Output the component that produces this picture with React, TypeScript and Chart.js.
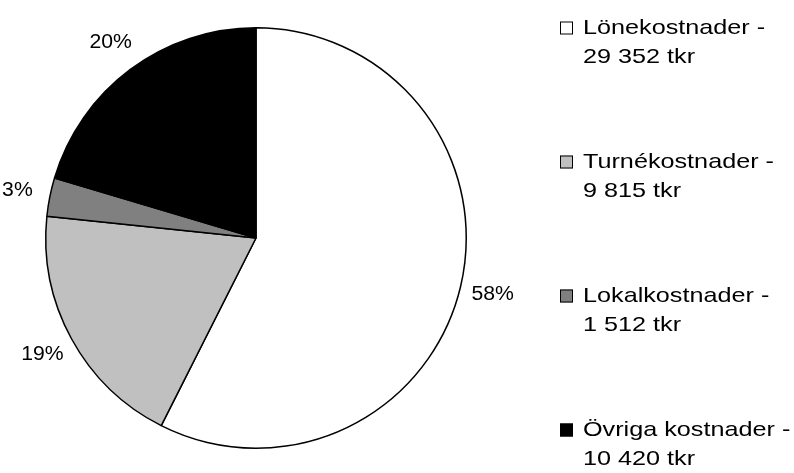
import React, { useEffect, useRef } from "react";
import { Chart, registerables } from "chart.js";

Chart.register(...registerables);

const categories = ["Lönekostnader", "Turnékostnader", "Lokalkostnader", "Övriga kostnader"];
const values = [29352, 9815, 1512, 10420];
const percentLabels = ["58%", "19%", "3%", "20%"];
const sliceColors = ["#FFFFFF", "#C0C0C0", "#808080", "#000000"];
const unit = "tkr";

const FONT = "'Liberation Sans', Arial, sans-serif";

function fmt(v: number): string {
  return String(v).replace(/\B(?=(\d{3})+(?!\d))/g, " ");
}

const labelPlugin = {
  id: "outsideLabels",
  afterDatasetsDraw(chart: any) {
    const ctx = chart.ctx;
    const meta = chart.getDatasetMeta(0);
    ctx.save();
    ctx.font = `20px ${FONT}`;
    ctx.fillStyle = "#000";
    ctx.textAlign = "center";
    ctx.textBaseline = "middle";
    meta.data.forEach((arc: any, i: number) => {
      const p = arc.getProps(["x", "y", "startAngle", "endAngle", "outerRadius"], true);
      const mid = (p.startAngle + p.endAngle) / 2;
      const rr = p.outerRadius + 33;
      const lx = p.x + Math.cos(mid) * rr;
      const ly = p.y + Math.sin(mid) * rr;
      ctx.save();
      ctx.translate(lx, ly);
      ctx.scale(1.06, 1);
      ctx.fillText(percentLabels[i], 0, 0);
      ctx.restore();
    });
    ctx.restore();
  },
};

const legendPlugin = {
  id: "customLegend",
  afterDraw(chart: any) {
    const ctx = chart.ctx;
    const boxX = 560;
    const textX = 583;
    const firstY = 28;
    const step = 134;
    const lineGap = 29.5;
    const sx = 1.2;
    ctx.save();
    ctx.font = `21px ${FONT}`;
    ctx.textBaseline = "middle";
    ctx.textAlign = "left";
    categories.forEach((name, i) => {
      const y = firstY + i * step;
      ctx.fillStyle = sliceColors[i];
      ctx.fillRect(boxX, y - 6.5, 13, 13);
      ctx.strokeStyle = "#000";
      ctx.lineWidth = 1;
      ctx.strokeRect(boxX + 0.5, y - 6, 12, 12);
      ctx.fillStyle = "#000";
      ctx.save();
      ctx.translate(textX, 0);
      ctx.scale(sx, 1);
      ctx.fillText(`${name} -`, 0, y);
      ctx.fillText(`${fmt(values[i])} ${unit}`, 0, y + lineGap);
      ctx.restore();
    });
    ctx.restore();
  },
};

export default function App() {
  const ref = useRef<HTMLCanvasElement>(null);
  useEffect(() => {
    if (!ref.current) return;
    const chart = new Chart(ref.current, {
      type: "pie",
      data: {
        labels: categories,
        datasets: [
          {
            data: values,
            backgroundColor: sliceColors,
            borderColor: "#000",
            borderWidth: 1.5,
          },
        ],
      },
      options: {
        animation: false,
        responsive: true,
        maintainAspectRatio: false,
        layout: { padding: { left: 45, top: 27, right: 327, bottom: 24 } },
        plugins: {
          legend: { display: false },
          tooltip: { enabled: false },
        },
      },
      plugins: [labelPlugin, legendPlugin],
    });
    return () => chart.destroy();
  }, []);
  return (
    <div style={{ position: "fixed", left: 0, top: 0, width: 794, height: 473, background: "#fff" }}>
      <canvas ref={ref} />
    </div>
  );
}
